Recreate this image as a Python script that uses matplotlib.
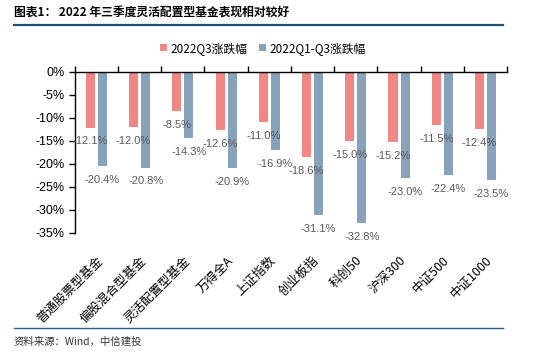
import matplotlib
matplotlib.use('Agg')
import matplotlib.pyplot as plt
from matplotlib.lines import Line2D
from matplotlib.ticker import FuncFormatter, FixedLocator
import numpy as np

plt.rcParams['font.family'] = ['Liberation Sans', 'Noto Sans CJK SC', 'DejaVu Sans']

# data
categories = ['普通股票型基金', '偏股混合型基金', '灵活配置型基金', '万得全A', '上证指数',
              '创业板指', '科创50', '沪深300', '中证500', '中证1000']
q3 = [-12.1, -12.0, -8.5, -12.6, -11.0, -18.6, -15.0, -15.2, -11.5, -12.4]
q1_q3 = [-20.4, -20.8, -14.3, -20.9, -16.9, -31.1, -32.8, -23.0, -22.4, -23.5]
series_names = ['2022Q3涨跌幅', '2022Q1-Q3涨跌幅']

red = '#F08784'
blue = '#87A3BC'
label_grey = '#595959'

fig = plt.figure(figsize=(5.5, 3.54), dpi=100)
ax = fig.add_axes([0.136, 0.342, 0.786, 0.455])

x = np.arange(len(categories))
w = 0.21
off = 0.14
b1 = ax.bar(x - off, q3, w, color=red, label=series_names[0])
b2 = ax.bar(x + off, q1_q3, w, color=blue, label=series_names[1])

for bars in (b1, b2):
    for rect in bars:
        v = rect.get_height()
        ax.annotate(f'{v:.1f}%', (rect.get_x() + rect.get_width() / 2, v),
                    xytext=(0, -10), textcoords='offset points',
                    ha='center', va='center', fontsize=8, color=label_grey)

ax.set_xlim(-0.5, len(categories) - 0.5)
ax.set_ylim(-35, 0)
ax.set_yticks(np.arange(-35, 1, 5))
ax.yaxis.set_major_formatter(FuncFormatter(lambda v, p: f'{v:.0f}%'))
ax.tick_params(axis='y', direction='out', length=4, width=1, labelsize=9, colors='black')

ax.set_xticks(x)
ax.set_xticklabels(categories, rotation=45, ha='right', rotation_mode='anchor',
                   fontsize=9, family=['Noto Sans CJK SC'])
ax.xaxis.set_minor_locator(FixedLocator(np.arange(-0.5, len(categories), 1)))
ax.tick_params(axis='x', which='major', length=0, pad=15)
ax.tick_params(axis='x', which='minor', top=True, bottom=False, direction='out',
               length=4, width=1)

for s in ['bottom', 'right']:
    ax.spines[s].set_visible(False)
ax.spines['left'].set_linewidth(1)
ax.spines['top'].set_linewidth(1)

ax.legend(loc='center', bbox_to_anchor=(0.478, 0.864), bbox_transform=fig.transFigure,
          ncol=2, frameon=False, handlelength=0.6, handleheight=0.6,
          handletextpad=0.3, columnspacing=1.0, prop={'family': ['Noto Sans CJK SC'], 'size': 8.5})

# title, rules and source
fig.text(0.025, 0.963, '图表1： 2022 年三季度灵活配置型基金表现相对较好', fontsize=8.5,
         fontweight='bold', family=['Noto Sans CJK SC'], ha='left', va='center')
fig.add_artist(Line2D([0.025, 0.915], [0.929, 0.929], color='#1F4E79', lw=1.6,
                      transform=fig.transFigure))
fig.add_artist(Line2D([0.025, 0.915], [0.073, 0.073], color='#2F5F8F', lw=1,
                      transform=fig.transFigure))
fig.text(0.025, 0.034, '资料来源：Wind，中信建投', fontsize=7.5, style='italic',
         family=['Noto Sans CJK SC'], ha='left', va='center', color='#333333')

fig.savefig('out.png', dpi=100)
